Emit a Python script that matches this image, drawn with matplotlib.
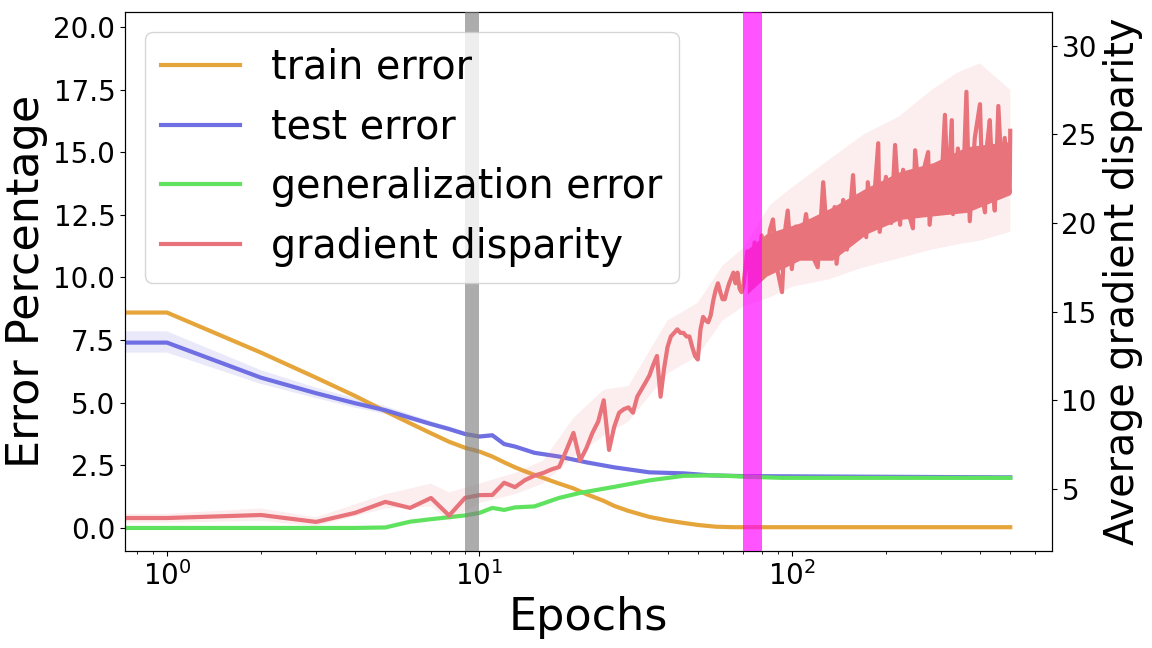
import numpy as np
import matplotlib
matplotlib.use("Agg")
import matplotlib.pyplot as plt

# error curves (left axis)
train_epochs = [0, 1, 2, 3, 4, 5, 6, 7, 8, 9, 10, 11, 12, 13, 14, 15, 16, 17, 18, 20, 22, 25, 27, 30, 35, 40, 45, 50, 57, 65, 100, 200, 500]
train_err = [8.6, 8.6, 7.0, 6.0, 5.27, 4.66, 4.18, 3.78, 3.44, 3.2, 3.05, 2.85, 2.62, 2.42, 2.26, 2.12, 2.0, 1.88, 1.77, 1.58, 1.35, 1.08, 0.88, 0.68, 0.44, 0.3, 0.2, 0.12, 0.05, 0.03, 0.03, 0.03, 0.03]

test_epochs = [0, 1, 2, 3, 4, 5, 6, 7, 8, 9, 10, 11, 12, 13, 15, 18, 22, 27, 35, 45, 55, 70, 150, 500]
test_err = [7.4, 7.4, 6.0, 5.38, 4.98, 4.7, 4.4, 4.15, 3.95, 3.75, 3.65, 3.7, 3.35, 3.25, 3.0, 2.85, 2.62, 2.42, 2.22, 2.18, 2.1, 2.07, 2.05, 2.02]
test_lo = [7.0, 7.0, 5.75, 5.18, 4.8, 4.55, 4.28, 4.05, 3.85, 3.66, 3.56, 3.62, 3.27, 3.18, 2.93, 2.79, 2.57, 2.37, 2.18, 2.14, 2.07, 2.04, 2.02, 1.99]
test_hi = [7.85, 7.85, 6.3, 5.6, 5.18, 4.86, 4.54, 4.26, 4.05, 3.84, 3.74, 3.78, 3.43, 3.32, 3.07, 2.91, 2.67, 2.47, 2.26, 2.22, 2.13, 2.1, 2.08, 2.05]

gen_epochs = [0, 1, 2, 3, 4, 5, 6, 7, 8, 9, 10, 11, 12, 13, 15, 18, 21, 27, 35, 45, 57, 73, 93, 500]
gen_err = [0.0, 0.0, 0.0, 0.0, 0.0, 0.02, 0.25, 0.35, 0.43, 0.5, 0.6, 0.8, 0.72, 0.82, 0.86, 1.2, 1.4, 1.64, 1.9, 2.08, 2.1, 2.04, 2.0, 2.0]

# gradient disparity (right axis)
grad_epochs = [0, 1, 2, 3, 4, 5, 6, 7, 8, 9, 10, 11, 12, 13, 14, 15, 16, 17, 18, 19,
               20, 21, 22, 23, 24, 25, 26, 27, 28, 29, 30, 31, 32, 33, 34, 35, 36, 37, 38, 39,
               40, 41, 42, 43, 44, 45, 46, 47, 48, 49, 50, 51, 52, 53, 54, 55, 56, 57, 58, 59,
               60, 61, 62, 63, 64, 65, 66, 67, 68, 69, 70,
               72, 74, 76, 78, 80, 83, 85, 87, 90, 93, 95, 97, 100, 103, 106, 111, 116, 121, 126,
               131, 137, 139, 146, 150, 157, 161, 168, 173, 175, 181, 189, 191, 200, 208, 214, 222,
               227, 236, 244, 248, 258, 266, 273, 276, 286, 298, 309, 316, 325, 328, 340, 352, 362,
               371, 385, 400, 408, 415, 422, 430, 440, 446, 458, 470, 480, 490, 498, 500]
grad_disp = [3.25, 3.36, 3.53, 3.14, 3.65, 4.27, 3.93, 4.49, 3.5, 4.5, 4.65, 4.66, 5.35, 5.1, 5.5, 5.75, 5.9, 6.1, 6.24, 7.2,
             8.16, 6.6, 7.3, 8.16, 8.8, 10.0, 7.2, 8.5, 9.3, 9.5, 9.6, 9.3, 10.2, 10.6, 11.0, 11.4, 12.0, 12.5, 10.2, 11.8,
             13.0, 13.6, 13.8, 14.0, 13.8, 13.8, 13.6, 13.6, 13.0, 12.5, 12.3, 14.0, 14.7, 14.5, 14.4, 14.8, 15.6, 16.2, 16.6, 16.1,
             15.7, 15.7, 16.2, 16.6, 16.9, 17.2, 16.6, 17.2, 16.3, 16.1, 16.5,
             18.4, 16.6, 18.9, 16.9, 19.3, 17.2, 19.6, 20.2, 17.3, 16.1, 19.5, 20.7, 17.4, 19.8, 18.1, 20.5, 18.2, 17.5, 22.3,
             18.1, 20.9, 17.7, 21.3, 18.5, 22.7, 19.2, 21.6, 19.2, 22.3, 20.0, 24.5, 19.5, 22.6, 20.0, 24.4, 19.9,
             23.0, 20.6, 19.7, 24.1, 20.8, 23.2, 24.0, 19.9, 23.0, 20.6, 26.1, 21.5, 25.8, 20.5, 24.2, 21.2, 27.4,
             20.1, 24.8, 26.7, 21.4, 20.6, 24.5, 25.8, 22.0, 20.7, 26.6, 22.6, 24.8, 22.4, 21.7, 25.2]

# solid core of the dense part of the gradient disparity curve
core_epochs = [72, 83, 106, 135, 174, 222, 283, 363, 500]
core_lo = [16.0, 17.0, 17.9, 17.9, 19.4, 20.2, 20.4, 20.6, 21.6]
core_hi = [18.5, 19.4, 20.0, 20.9, 22.0, 22.9, 23.4, 24.3, 24.6]

# faint std band of the gradient disparity
std_epochs = [0, 1, 2, 3, 5, 7, 8, 10, 13, 16, 20, 25, 30, 40, 50, 60, 70, 85, 100, 130, 170, 220, 280, 340, 400, 500]
std_lo = [3.0, 3.1, 3.2, 2.9, 3.9, 4.0, 3.2, 4.2, 4.7, 5.3, 6.8, 8.0, 8.8, 11.5, 12.5, 14.5, 15.3, 15.8, 16.4, 16.8, 17.5, 18.0, 18.5, 18.8, 19.0, 19.5]
std_hi = [3.5, 3.6, 3.9, 3.4, 4.7, 5.3, 4.8, 5.3, 5.9, 6.6, 9.0, 10.6, 10.8, 14.5, 15.5, 17.6, 18.6, 21.0, 22.0, 23.5, 25.0, 26.0, 27.5, 28.5, 29.0, 27.5]

left_ticks = [0.0, 2.5, 5.0, 7.5, 10.0, 12.5, 15.0, 17.5, 20.0]
right_ticks = [5, 10, 15, 20, 25, 30]

c_train = "#e5a53a"
c_test = "#6f6fe3"
c_gen = "#5fe35f"
c_grad = "#e8737a"

fig = plt.figure(figsize=(11.52, 6.48), dpi=100)
ax1 = fig.add_axes([0.1085, 0.1497, 0.8045, 0.8318])
ax1.set_xscale("log")

ax1.fill_between(test_epochs, test_lo, test_hi, color=c_test, alpha=0.15, lw=0)
l1, = ax1.plot(train_epochs, train_err, color=c_train, lw=3, label="train error")
l2, = ax1.plot(test_epochs, test_err, color=c_test, lw=3, label="test error")
l3, = ax1.plot(gen_epochs, gen_err, color=c_gen, lw=3, label="generalization error")

ax1.set_xlim(0.734, 679)
ax1.set_ylim(-0.92, 20.6)
ax1.set_yticks(left_ticks)
ax1.set_xlabel("Epochs", fontsize=32)
ax1.set_ylabel("Error Percentage", fontsize=32)
ax1.tick_params(labelsize=20)

ax2 = ax1.twinx()
ax2.fill_between(std_epochs, std_lo, std_hi, color=c_grad, alpha=0.12, lw=0)
ax2.fill_between(core_epochs, core_lo, core_hi, color=c_grad, lw=0)
l4, = ax2.plot(grad_epochs, grad_disp, color=c_grad, lw=3, label="gradient disparity")
ax2.set_ylim(1.5, 31.9)
ax2.set_yticks(right_ticks)
ax2.set_ylabel("Average gradient disparity", fontsize=28.5)
ax2.tick_params(labelsize=20)

ax2.axvspan(9, 10, color="gray", alpha=0.65, lw=0, zorder=5)
ax2.axvspan(70, 80, color="magenta", alpha=0.67, lw=0, zorder=5)

ax2.legend(handles=[l1, l2, l3, l4], loc="upper left", fontsize=28.5)

plt.savefig("out.png", dpi=100)
